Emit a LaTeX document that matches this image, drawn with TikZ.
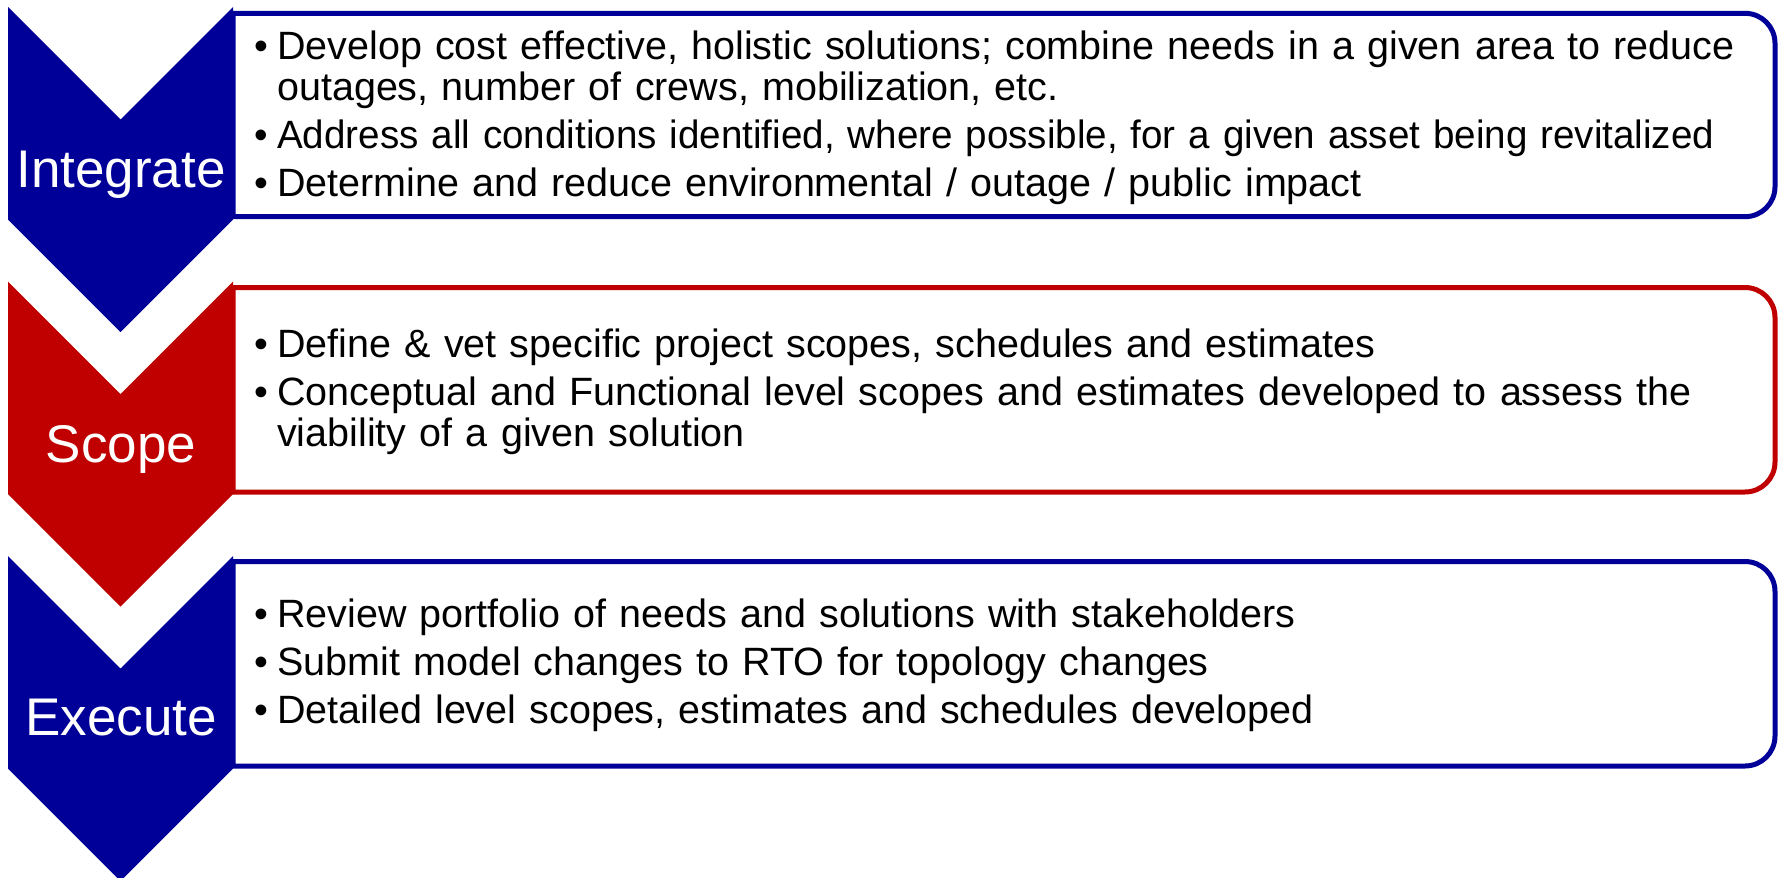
\documentclass[tikz,border=0pt]{standalone}
\usepackage{fontspec}
\usepackage{graphicx}
\setmainfont{Liberation Sans}
\definecolor{navy}{RGB}{0,0,153}
\definecolor{dred}{RGB}{192,0,0}
\newcommand{\bul}{\leavevmode\llap{•\hspace{9pt}}}
\begin{document}
\begin{tikzpicture}[x=1pt,y=-1pt,
  panel/.style={draw=#1, line width=5pt, fill=white},
  chev/.style={fill=#1},
  stage/.style={text=white, font=\fontsize{53}{60}\selectfont, inner sep=0pt, anchor=base},
  item/.style={font=\fontsize{39.5}{41}\selectfont, inner sep=0pt, anchor=base west, align=left, text width=1700pt}]
\useasboundingbox (0,0) rectangle (1778,878);

% panels
\draw[panel=navy] (233,13.3) [rounded corners=30pt] -- (1775,13.3) -- (1775,216.7) [sharp corners] -- (233,216.7) -- cycle;
\draw[panel=dred] (233,287.5) [rounded corners=30pt] -- (1775,287.5) -- (1775,492) [sharp corners] -- (233,492) -- cycle;
\draw[panel=navy] (233,561.5) [rounded corners=30pt] -- (1775,561.5) -- (1775,766) [sharp corners] -- (233,766) -- cycle;

% chevrons
\fill[chev=navy] (8,7) -- (120.5,119.5) -- (233,7) -- (233,219.5) -- (120.5,332) -- (8,219.5) -- cycle;
\fill[chev=dred] (8,281.5) -- (120.5,394) -- (233,281.5) -- (233,494) -- (120.5,606.5) -- (8,494) -- cycle;
\fill[chev=navy] (8,556) -- (120.5,668.5) -- (233,556) -- (233,768.5) -- (120.5,881) -- (8,768.5) -- cycle;

% stage labels
\node[stage] (l1) at (121,187) {Integrate};
\node[stage] (l2) at (121,462) {Scope};
\node[stage] (l3) at (121,735) {Execute};

% items
\node[item] (t1a) at (277,59) {\bul Develop cost effective, holistic solutions; combine needs in a given area to reduce\\outages, number of crews, mobilization, etc.};
\node[item] (t1b) at (277,148) {\scalebox{0.977}[1]{\bul Address all conditions identified, where possible, for a given asset being revitalized}};
\node[item] (t1c) at (277,196) {\bul Determine and reduce environmental / outage / public impact};

\node[item] (t2a) at (277,357) {\bul Define \& vet specific project scopes, schedules and estimates};
\node[item] (t2b) at (277,405) {\bul Conceptual and Functional level scopes and estimates developed to assess the\\viability of a given solution};

\node[item] (t3a) at (277,627) {\bul Review portfolio of needs and solutions with stakeholders};
\node[item] (t3b) at (277,675) {\bul Submit model changes to RTO for topology changes};
\node[item] (t3c) at (277,723) {\bul Detailed level scopes, estimates and schedules developed};
\end{tikzpicture}
\end{document}
